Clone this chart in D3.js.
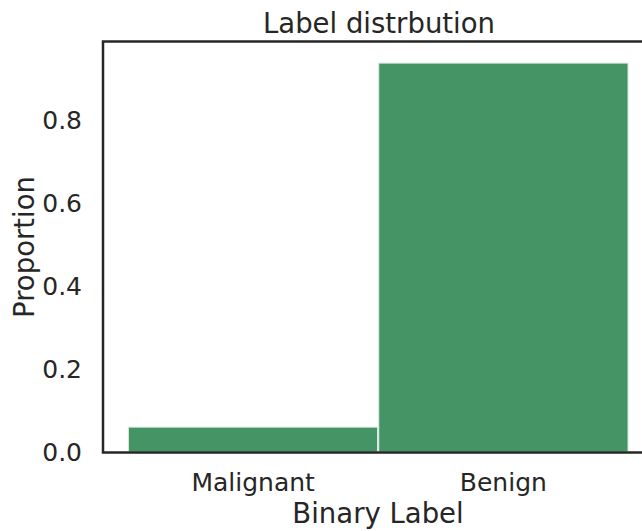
<!DOCTYPE html>
<html>
<head>
<meta charset="utf-8">
<script src="https://cdn.jsdelivr.net/npm/d3@7"></script>
<style>
  body { margin: 0; background: #fff; }
  text { font-family: "DejaVu Sans", sans-serif; fill: #262626; }
</style>
</head>
<body>
<div class="chart"></div>
<script>
// data
const labels = ["Malignant", "Benign"];
const codes = [0, 1];
const proportions = [0.062, 0.938];
const yTicks = [0, 0.2, 0.4, 0.6, 0.8];

const svg = d3.select(".chart")
  .append("svg")
  .attr("width", 642)
  .attr("height", 531);

// axes box (right edge runs off the page like in the original)
const plotLeft = 103, plotRight = 653.5, plotTop = 41.5, plotBottom = 452.5;

const x = d3.scaleLinear()
  .domain([-0.6, 1.6])
  .range([plotLeft, plotRight]);

const y = d3.scaleLinear()
  .domain([0, 0.989])
  .range([plotBottom, plotTop]);

const bins = codes.map((c, i) => ({ code: c, label: labels[i], value: proportions[i] }));

// bars, one per discrete bin
svg.selectAll("rect.bar")
  .data(bins)
  .join("rect")
  .attr("class", "bar")
  .attr("x", d => x(d.code - 0.5))
  .attr("width", d => x(d.code + 0.5) - x(d.code - 0.5))
  .attr("y", d => y(d.value))
  .attr("height", d => y(0) - y(d.value))
  .attr("fill", "#459465")
  .attr("stroke", "white")
  .attr("stroke-opacity", 0.75)
  .attr("stroke-width", 2);

// frame
svg.append("rect")
  .attr("x", plotLeft)
  .attr("y", plotTop)
  .attr("width", plotRight - plotLeft)
  .attr("height", plotBottom - plotTop)
  .attr("fill", "none")
  .attr("stroke", "#262626")
  .attr("stroke-width", 2.5);

// y tick labels
svg.selectAll("text.ytick")
  .data(yTicks)
  .join("text")
  .attr("class", "ytick")
  .attr("x", 82)
  .attr("y", d => y(d))
  .attr("text-anchor", "end")
  .attr("dominant-baseline", "central")
  .style("font-size", "25px")
  .text(d => d3.format(".1f")(d));

// x tick labels
svg.selectAll("text.xtick")
  .data(bins)
  .join("text")
  .attr("class", "xtick")
  .attr("x", d => x(d.code))
  .attr("y", 491)
  .attr("text-anchor", "middle")
  .style("font-size", "25px")
  .text(d => d.label);

// title and axis labels
svg.append("text")
  .attr("x", 379)
  .attr("y", 33)
  .attr("text-anchor", "middle")
  .style("font-size", "27.5px")
  .text("Label distrbution");

svg.append("text")
  .attr("x", 378)
  .attr("y", 523)
  .attr("text-anchor", "middle")
  .style("font-size", "27.5px")
  .text("Binary Label");

svg.append("text")
  .attr("transform", `translate(33.5,${(plotTop + plotBottom) / 2}) rotate(-90)`)
  .attr("text-anchor", "middle")
  .style("font-size", "27.5px")
  .text("Proportion");
</script>
</body>
</html>
